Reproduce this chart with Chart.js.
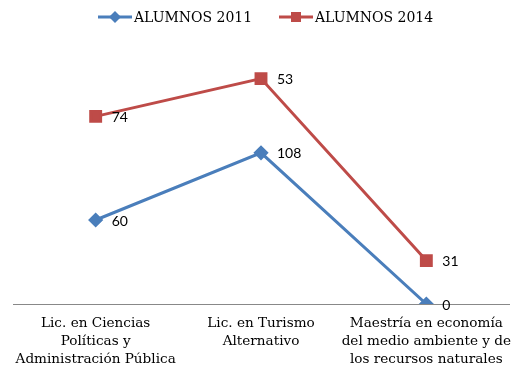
<!DOCTYPE html>
<html>
<head>
<meta charset="utf-8">
<script src="https://cdn.jsdelivr.net/npm/chart.js@4"></script>
<style>
  html, body { margin: 0; padding: 0; background: #fff; }
  #wrap { width: 519px; height: 369px; }
</style>
</head>
<body>
<div id="wrap"><canvas id="lineChart"></canvas></div>
<script>
"use strict"

const categories = [
  ["Lic. en Ciencias", "Políticas y", "Administración Pública"],
  ["Lic. en Turismo", "Alternativo"],
  ["Maestría en economía", "del medio ambiente y de", "los recursos naturales"]
];
const alumnos2011 = [60, 108, 0];
const alumnos2014 = [74, 53, 31];
const seriesNames = ["ALUMNOS 2011", "ALUMNOS 2014"];

const BLUE = '#4A7EBB';
const RED = '#BE4B48';
const SERIF = '"DejaVu Serif", "Liberation Serif", serif';
const SANS = 'Lato, "Open Sans", sans-serif';

// value labels next to each point (shows the raw value, not the stacked total)
const valueLabels = {
  id: 'valueLabels',
  afterDatasetsDraw(chart) {
    const ctx = chart.ctx;
    ctx.save();
    ctx.font = '14px ' + SANS;
    ctx.fillStyle = '#000';
    ctx.textBaseline = 'middle';
    chart.data.datasets.forEach((ds, i) => {
      chart.getDatasetMeta(i).data.forEach((pt, j) => {
        ctx.fillText(String(ds.data[j]), pt.x + 16, pt.y + 1);
      });
    });
    ctx.restore();
  }
};

// excel style legend: line with marker then the name
const topLegend = {
  id: 'topLegend',
  afterDraw(chart) {
    const ctx = chart.ctx;
    const items = [
      { x: 98, color: BLUE, shape: 'diamond', text: seriesNames[0] },
      { x: 279, color: RED, shape: 'square', text: seriesNames[1] }
    ];
    const y = 17;
    ctx.save();
    items.forEach(it => {
      ctx.strokeStyle = it.color;
      ctx.fillStyle = it.color;
      ctx.lineWidth = 3;
      ctx.beginPath();
      ctx.moveTo(it.x, y);
      ctx.lineTo(it.x + 34, y);
      ctx.stroke();
      const cx = it.x + 17;
      if (it.shape === 'diamond') {
        ctx.beginPath();
        ctx.moveTo(cx, y - 6);
        ctx.lineTo(cx + 6, y);
        ctx.lineTo(cx, y + 6);
        ctx.lineTo(cx - 6, y);
        ctx.closePath();
        ctx.fill();
      } else {
        ctx.fillRect(cx - 5, y - 5, 10, 10);
      }
      ctx.fillStyle = '#000';
      ctx.font = '14px ' + SERIF;
      ctx.textBaseline = 'middle';
      ctx.fillText(it.text, it.x + 36, y + 1);
    });
    ctx.restore();
  }
};

new Chart(document.getElementById('lineChart'), {
  type: 'line',
  data: {
    labels: categories,
    datasets: [{
      label: seriesNames[0],
      data: alumnos2011,
      borderColor: BLUE,
      backgroundColor: BLUE,
      borderWidth: 3,
      pointStyle: 'rectRot',
      pointRadius: 5.5,
      pointHoverRadius: 5.5,
      fill: false
    }, {
      label: seriesNames[1],
      data: alumnos2014,
      borderColor: RED,
      backgroundColor: RED,
      borderWidth: 3,
      pointStyle: 'rect',
      pointRadius: 7,
      pointHoverRadius: 7,
      fill: false
    }]
  },
  options: {
    responsive: true,
    maintainAspectRatio: false,
    animation: false,
    layout: { padding: { top: 24, left: 13, right: 7, bottom: 0 } },
    plugins: {
      legend: { display: false },
      tooltip: { enabled: false }
    },
    scales: {
      x: {
        offset: true,
        grid: { display: false, drawTicks: false },
        border: { display: true, color: '#888888', width: 1 },
        ticks: {
          maxRotation: 0,
          autoSkip: false,
          color: '#000',
          padding: 10,
          font: { family: SERIF, size: 13.6, lineHeight: 1.34 }
        },
        afterFit(scale) {
          scale.height = 65;
          scale.paddingLeft = 0;
          scale.paddingRight = 0;
        }
      },
      y: {
        display: false,
        stacked: true,
        min: 0,
        max: 200
      }
    }
  },
  plugins: [valueLabels, topLegend]
});
</script>
</body>
</html>
